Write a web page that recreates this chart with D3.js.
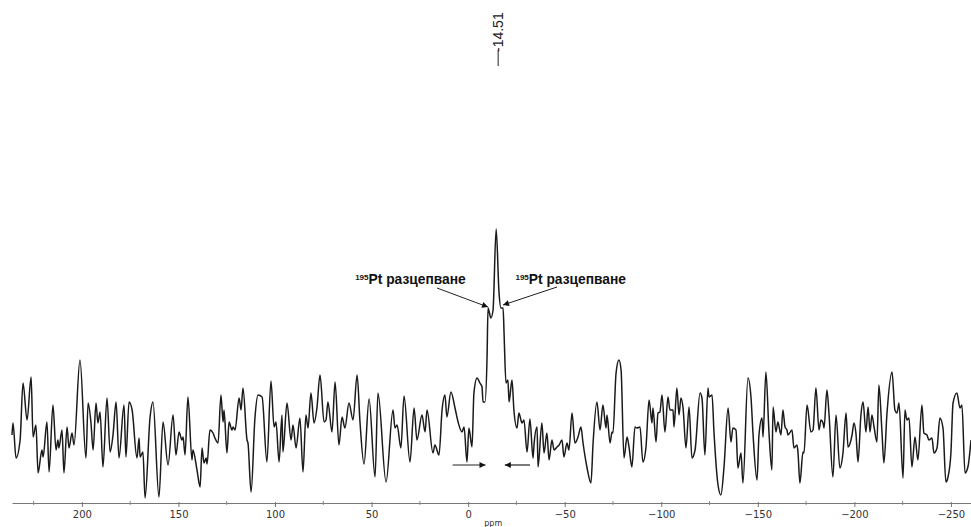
<!DOCTYPE html>
<html>

<head>
    <meta charset="utf-8">
    <title>195Pt NMR spectrum</title>
    <style>
        body { margin: 0; background: #fff; }
    </style>
</head>

<body>
    <script src='https://d3js.org/d3.v7.min.js'></script>
    <script>
    // chemical shift (ppm) of each read point, left to right
    var ppm = [236.2, 235.7, 234.1, 232.0, 230.5, 228.4, 226.3, 225.3, 223.8, 222.7, 220.7, 220.1, 218.1, 217.0, 215.0, 213.4, 212.4, 211.9, 210.3, 209.3,
        207.7, 206.7, 205.1, 204.1, 201.0, 197.9, 196.8, 195.3, 194.2, 192.7, 191.7, 190.6, 189.1, 187.0, 185.4, 183.9, 182.3, 180.8, 178.2, 177.2,
        175.6, 174.0, 171.5, 170.4, 169.9, 168.4, 167.3, 164.7, 163.2, 160.1, 158.0, 155.4, 152.8, 151.3, 149.7, 148.2, 147.6, 146.6, 145.1, 143.0,
        142.5, 140.4, 138.8, 137.8, 136.8, 135.7, 135.2, 133.7, 132.1, 131.1, 129.5, 128.0, 126.9, 126.4, 124.9, 123.8, 122.3, 121.7, 120.7, 118.6,
        117.6, 116.6, 114.5, 114.0, 112.4, 110.4, 108.8, 106.7, 104.2, 102.1, 100.5, 99.5, 97.9, 96.4, 95.9, 93.8, 91.7, 90.7, 89.1, 87.1,
        85.5, 84.0, 82.9, 81.4, 79.8, 78.3, 76.7, 74.6, 73.6, 72.6, 70.5, 68.9, 66.9, 65.3, 63.8, 61.7, 59.6, 57.5, 56.0, 53.9,
        51.3, 48.2, 46.7, 42.5, 38.9, 37.9, 36.8, 34.8, 33.2, 30.1, 28.0, 26.5, 23.9, 22.3, 21.3, 18.2, 17.2, 15.1, 13.5, 12.0,
        11.0, 8.9, 6.8, 5.2, 3.2, 2.1, 0.6, -0.4, -2.0, -3.0, -4.6, -6.1, -7.2, -7.7, -8.7, -9.8, -10.3, -11.8, -12.9, -14.51,
        -16.0, -17.0, -18.1, -18.6, -19.6, -20.6, -21.2, -22.7, -23.7, -25.3, -26.3, -27.9, -28.9, -30.5, -32.0, -33.6, -34.1, -35.7, -36.2, -38.2,
        -39.3, -40.8, -41.9, -43.4, -44.5, -46.0, -47.1, -48.6, -49.6, -51.2, -52.2, -53.8, -55.3, -56.9, -58.4, -59.5, -61.5, -63.6, -64.7, -66.7,
        -68.3, -69.8, -71.4, -71.9, -73.5, -74.5, -75.0, -76.6, -78.1, -79.2, -80.7, -82.3, -83.3, -84.8, -86.4, -87.4, -89.0, -90.5, -92.1, -93.7,
        -95.2, -95.7, -97.3, -98.3, -99.3, -100.4, -101.9, -103.5, -104.5, -106.1, -106.6, -108.1, -109.2, -110.2, -111.3, -112.8, -114.4, -115.9, -117.5, -120.1,
        -121.1, -122.6, -124.2, -124.7, -126.3, -127.3, -129.4, -130.9, -132.5, -134.6, -136.1, -137.1, -138.7, -139.7, -141.3, -142.3, -144.9, -146.5, -147.5, -149.6,
        -150.6, -152.2, -152.7, -154.2, -155.8, -157.3, -157.9, -159.4, -160.4, -162.0, -163.0, -164.1, -165.1, -165.6, -167.7, -168.7, -170.3, -170.8, -171.8, -173.4,
        -173.9, -175.5, -177.5, -178.6, -180.1, -181.7, -182.7, -183.8, -184.3, -185.8, -186.9, -188.9, -190.5, -192.5, -194.1, -195.7, -196.7, -198.8, -199.8, -200.8,
        -201.9, -203.4, -204.5, -206.0, -207.1, -208.1, -209.1, -210.2, -211.7, -212.7, -214.3, -215.3, -216.9, -219.5, -221.0, -222.1, -223.1, -225.2, -226.2, -227.2,
        -228.3, -229.8, -231.4, -232.9, -235.0, -236.0, -237.6, -238.6, -240.2, -241.2, -242.8, -244.3, -245.9, -247.4, -248.5, -250.0, -251.1, -253.1, -254.7, -255.7,
        -257.3, -258.8, -260.4];

    // intensity (a.u.) at each point
    var intensity = [35, 47, 12, 30, 87, 50, 93, 33, 45, -3, 20, 13, 48, -2, 65, 20, 30, 22, 40, -3,
        43, 22, 37, 25, 110, 12, 67, 47, 20, 67, 47, 58, 3, 72, 18, 35, 68, 12, 65, 13,
        68, 60, 12, 32, 13, 18, -28, 53, 68, -27, 48, 5, 55, 15, 38, 30, 33, 15, 73, 10,
        20, 0, -17, 22, 7, 12, 6, 40, 37, 32, 27, 75, 48, 60, 17, 48, 40, 43, 40, 72,
        60, 82, 30, 27, -22, 52, 75, 73, 8, 89, 43, 48, 8, 55, 18, 67, 30, 45, 22, 52,
        -2, 55, 42, 77, 47, 62, 95, 48, 50, 68, 38, 88, 25, 53, 42, 67, 50, 95, 48, 6,
        71, -7, 77, -12, 60, 42, 45, 22, 74, 8, 62, 30, 55, 38, 60, 17, 25, 15, 60, 75,
        53, 78, 62, 48, 38, 43, 8, 42, 23, 77, 92, 87, 83, 68, 68, 113, 162, 152, 160, 241,
        177, 162, 162, 137, 87, 90, 68, 90, 60, 42, 57, 47, 50, 18, 51, 12, 25, 43, 3, 47,
        17, 37, 10, 30, 20, 23, 25, 30, 13, 27, 20, 57, 27, 33, 43, 27, 3, -13, 27, 68,
        40, 65, 42, 55, 27, 38, 37, 97, 110, 100, 12, 33, 23, 3, 43, 42, 43, 8, 23, 70,
        47, 62, 28, 57, 58, 75, 38, 73, 60, 60, 43, 82, 55, 72, 62, 22, 63, 12, 20, 77,
        72, 15, 82, 73, 75, 38, -15, -25, 3, 62, 28, 42, 40, 2, 17, -13, 92, 72, 37, -10,
        35, 52, 33, 98, 37, 0, 63, 38, 48, 35, 60, 43, 40, 35, 40, 22, 25, 18, -13, 18,
        17, 65, 38, 40, 82, 40, 50, 47, 42, 80, 55, -7, 55, 2, 17, 57, 23, 35, 47, 37,
        8, 55, 68, 38, 63, 38, 55, 43, 28, 85, 38, 7, 57, 98, 60, 57, 67, -8, 60, 50,
        52, 3, 33, 10, 65, 37, 35, 30, 32, 17, 22, 52, 42, -12, -7, 17, 67, 77, 62, 65,
        -3, 3, 30];

    var majorTicks = [200, 150, 100, 50, 0, -50, -100, -150, -200, -250];
    var minorTicks = [225, 175, 125, 75, 25, -25, -75, -125, -175, -225];
    var peakLabel = "-14.51";
    var peakShift = -14.51;
    var splitLabel = "разцепване";

    var width = 971;
    var height = 527;

    var svg = d3.select("body")
        .append("svg")
        .attr("width", width)
        .attr("height", height)
        .style("font-family", "'DejaVu Sans', sans-serif");

    var x = d3.scaleLinear()
        .domain([236.2, -260.4])
        .range([12, 971]);

    var y = d3.scaleLinear()
        .domain([-40, 250])
        .range([510, 220]);

    var axisY = 503;

    // axis line + major ticks
    var axis = svg.append("g")
        .attr("transform", "translate(0," + axisY + ")")
        .call(d3.axisBottom(x)
            .tickValues(majorTicks)
            .tickSize(4)
            .tickSizeOuter(0)
            .tickPadding(4)
            .tickFormat(d3.format("d")));
    axis.select(".domain").attr("stroke", "#777");
    axis.selectAll(".tick line").attr("stroke", "#777").attr("y1", -1);
    axis.selectAll(".tick text")
        .attr("fill", "#333")
        .style("font-size", "10px")
        .style("font-family", "'DejaVu Sans', sans-serif");

    svg.append("g")
        .selectAll("line")
        .data(minorTicks)
        .enter()
        .append("line")
        .attr("x1", function(d) { return x(d); })
        .attr("x2", function(d) { return x(d); })
        .attr("y1", axisY - 2)
        .attr("y2", axisY + 2)
        .attr("stroke", "#888");

    svg.append("text")
        .attr("x", x(-13))
        .attr("y", 526)
        .attr("text-anchor", "middle")
        .attr("fill", "#333")
        .style("font-size", "8px")
        .text("ppm");

    // spectrum trace
    var points = ppm.map(function(d, i) { return [d, intensity[i]]; });
    var line = d3.line()
        .x(function(d) { return x(d[0]); })
        .y(function(d) { return y(d[1]); })
        .curve(d3.curveMonotoneX);

    svg.append("path")
        .datum(points)
        .attr("d", line)
        .attr("fill", "none")
        .attr("stroke", "#1a1a1a")
        .attr("stroke-width", 1.5)
        .attr("stroke-linejoin", "round");

    // peak label at top
    var px = x(peakShift) + 2;
    svg.append("line")
        .attr("x1", px).attr("x2", px)
        .attr("y1", 50).attr("y2", 66)
        .attr("stroke", "#222")
        .attr("stroke-width", 1);
    svg.append("text")
        .attr("transform", "translate(" + (px + 5) + ",52) rotate(-90)")
        .attr("fill", "#222")
        .style("font-family", "'Liberation Sans Narrow', 'Liberation Sans', sans-serif")
        .style("font-size", "14px")
        .text(peakLabel);

    // arrow heads
    var defs = svg.append("defs");
    defs.append("marker")
        .attr("id", "head")
        .attr("viewBox", "0 0 10 10")
        .attr("refX", 10)
        .attr("refY", 5)
        .attr("markerWidth", 9)
        .attr("markerHeight", 6)
        .attr("markerUnits", "userSpaceOnUse")
        .attr("orient", "auto")
        .append("path")
        .attr("d", "M0,0L10,5L0,10z")
        .attr("fill", "#111");

    // 195Pt splitting labels
    var labels = [
        { ppmPos: 58.5, from: [437, 288], to: [488, 307] },
        { ppmPos: -24.5, from: [557, 287], to: [503, 305] }
    ];
    labels.forEach(function(l) {
        var t = svg.append("text")
            .attr("x", x(l.ppmPos))
            .attr("y", 284)
            .attr("fill", "#111")
            .style("font-family", "'Liberation Sans', Arial, sans-serif")
            .style("font-weight", "bold");
        t.append("tspan")
            .attr("dy", -4)
            .style("font-size", "8px")
            .text("195");
        t.append("tspan")
            .attr("dy", 4)
            .style("font-size", "13.8px")
            .text("Pt " + splitLabel);

        svg.append("line")
            .attr("x1", l.from[0]).attr("y1", l.from[1])
            .attr("x2", l.to[0]).attr("y2", l.to[1])
            .attr("stroke", "#222")
            .attr("stroke-width", 1)
            .attr("marker-end", "url(#head)");
    });

    // horizontal arrows marking the splitting
    svg.append("line")
        .attr("x1", x(8)).attr("x2", x(-9))
        .attr("y1", 465).attr("y2", 465)
        .attr("stroke", "#222").attr("stroke-width", 1.2)
        .attr("marker-end", "url(#head)");
    svg.append("line")
        .attr("x1", x(-32)).attr("x2", x(-19))
        .attr("y1", 465).attr("y2", 465)
        .attr("stroke", "#222").attr("stroke-width", 1.2)
        .attr("marker-end", "url(#head)");
    </script>
</body>

</html>
